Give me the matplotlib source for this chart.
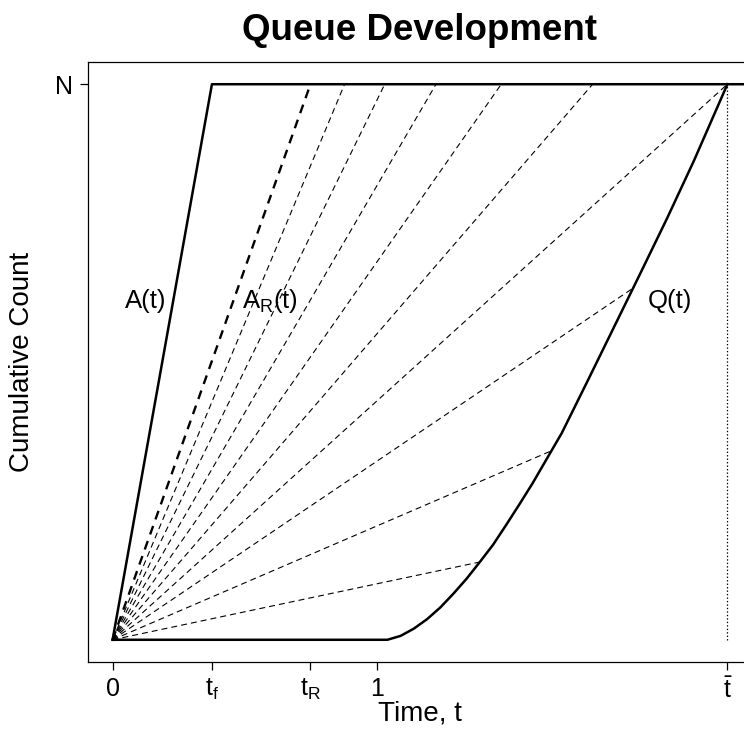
import matplotlib
matplotlib.use("Agg")
import matplotlib.pyplot as plt

plt.rcParams['font.family'] = ['Liberation Sans', 'DejaVu Sans']
plt.rcParams['mathtext.fontset'] = 'custom'
plt.rcParams['mathtext.rm'] = 'Liberation Sans'
plt.rcParams['mathtext.it'] = 'Liberation Sans:italic'
plt.rcParams['lines.scale_dashes'] = False

# tiempos clave (N normalizado a 1)
N = 1.0
t_f = 0.376
t_R = 0.749
t_bar = 2.327

# curva de salida Q(t)
q_t = [0.0, 1.04, 1.09, 1.14, 1.19, 1.24, 1.29, 1.34, 1.39, 1.44, 1.49,
       1.54, 1.59, 1.64, 1.70, 1.80, 1.90, 2.00, 2.10, 2.20, 2.327]
q_n = [0.0, 0.0, 0.007, 0.020, 0.037, 0.058, 0.083, 0.110, 0.140, 0.171, 0.207,
       0.244, 0.282, 0.323, 0.372, 0.468, 0.565, 0.662, 0.760, 0.862, 1.0]

# rectas desde el origen que terminan en N
fan_top_t = [0.878, 1.030, 1.224, 1.471, 1.817, 2.327]
# rectas desde el origen que terminan sobre Q(t)
fan_q_t = [1.39, 1.66, 1.97]
fan_q_n = [0.140, 0.340, 0.633]

xtick_pos = [0, t_f, t_R, 1, t_bar]
xtick_lab = ['0', r'$\mathrm{t_f}$', r'$\mathrm{t_R}$', '1', r'$\bar{\mathrm{t}}$']

fig = plt.figure(figsize=(7.44, 7.44), dpi=100)
ax = fig.add_axes([88/744, 82/744, 664/744, 600/744])

for t in fan_top_t:
    ax.plot([0, t], [0, N], color='black', lw=0.8, dashes=(4.3, 2.9))
for t, n in zip(fan_q_t, fan_q_n):
    ax.plot([0, t], [0, n], color='black', lw=0.8, dashes=(4.3, 2.9))

# A_R(t)
ax.plot([0, t_R], [0, N], color='black', lw=1.7, dashes=(6.5, 5))
# A(t)
ax.plot([0, t_f, 2.6], [0, N, N], color='black', lw=1.8)
ax.plot(q_t, q_n, color='black', lw=1.8)
ax.plot([t_bar, t_bar], [0, N], color='black', lw=0.9, dashes=(1, 1.5))

ax.text(0.125, 0.61, 'A(t)', fontsize=18.5, ha='center', va='center')
ax.text(0.595, 0.61, r'$\mathrm{A_R(t)}$', fontsize=18.5, ha='center', va='center')
ax.text(2.11, 0.61, 'Q(t)', fontsize=18.5, ha='center', va='center')

ax.set_xlim(-0.04 * t_bar, 1.04 * t_bar)
ax.set_ylim(-0.04, 1.04)
ax.set_xticks(xtick_pos)
ax.set_xticklabels(xtick_lab, fontsize=18)
ax.set_yticks([N])
ax.set_yticklabels(['N'], fontsize=18)
ax.tick_params(direction='out', length=6, width=0.9, pad=5)
for s in ax.spines.values():
    s.set_linewidth(0.9)

ax.set_xlabel('Time, t', fontsize=20, labelpad=-2)
ax.set_ylabel('Cumulative Count', fontsize=20, labelpad=14)
fig.text(419/744, 1 - 31/744, 'Queue Development', fontsize=26.5, fontweight='bold',
         ha='center', va='center')

plt.savefig('out.png', dpi=100)
